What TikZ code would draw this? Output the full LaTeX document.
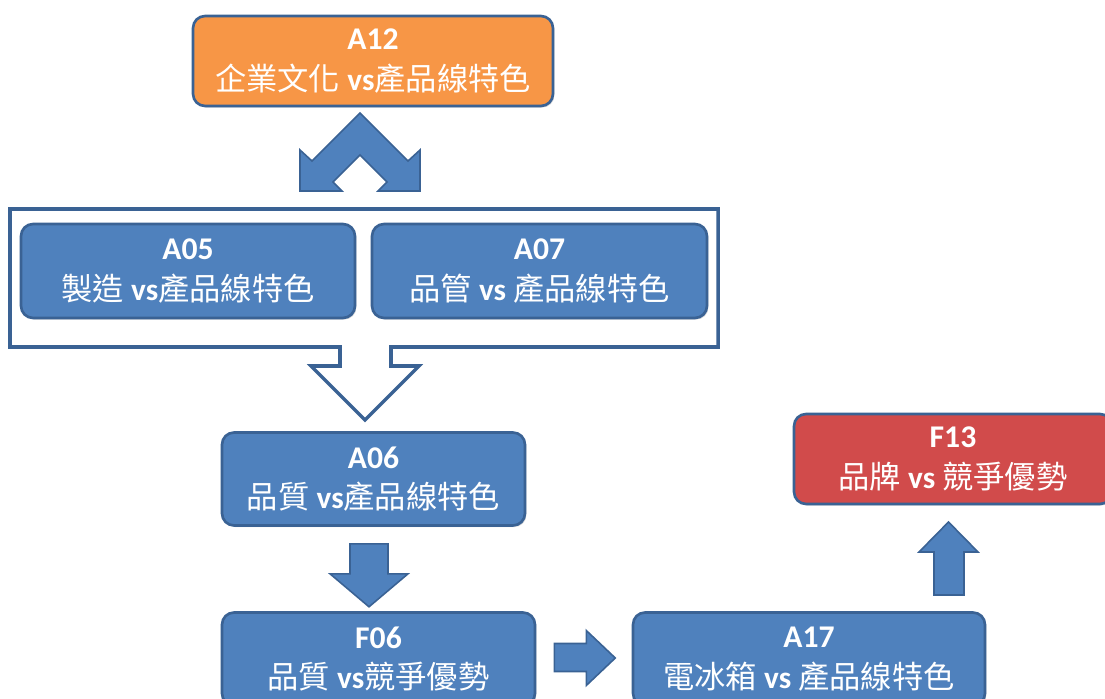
\documentclass[tikz,border=0pt]{standalone}
\usepackage{fontspec}
\setmainfont{Carlito}
\newfontfamily\cjk{Noto Sans CJK TC}
\usetikzlibrary{calc,shadows}

\definecolor{boxblue}{HTML}{4F81BD}
\definecolor{edgeblue}{HTML}{3A6294}
\definecolor{boxorange}{HTML}{F79646}
\definecolor{boxred}{HTML}{D14B4B}

\newcommand{\cardtext}[2]{{\fontsize{18}{23}\selectfont\bfseries #1}\\#2}

\begin{document}
\begin{tikzpicture}[x=0.02cm,y=-0.02cm,
  card/.style={draw=edgeblue, line width=1.5pt, rounded corners=0.24cm,
    fill=boxblue, text=white, align=center, inner sep=0pt,
    font=\fontsize{17.8}{23}\selectfont,
    drop shadow={shadow xshift=0.8pt, shadow yshift=-0.9pt, opacity=0.3}},
  blockarrow/.style={fill=boxblue, draw=edgeblue, line width=0.9pt, line join=miter},
  groupframe/.style={fill=white, draw=edgeblue, line width=2pt, line join=miter}]

\useasboundingbox (0,0) rectangle (1105,699);
\clip (0,0) rectangle (1105,699);

% top card
\node[card, fill=boxorange, minimum width=7.2cm, minimum height=1.8cm] (a12) at (373,61)
  {\cardtext{A12}{{\cjk 企業文化} \textbf{vs}{\cjk 產品線特色}}};

% double chevron from A12 down to the group
\coordinate (chev) at (360,113);
\draw[blockarrow] (chev) -- (408,161) -- (420,150) -- (420,191) -- (378,191)
  -- (387,182) -- (360,155) -- (333,182) -- (342,191) -- (300,191)
  -- (300,150) -- (312,161) -- cycle;

% group frame with its hollow down arrow
\draw[groupframe] (10,209) -- (718,209) -- (718,347) -- (391,347) -- (391,366)
  -- (419,366) -- (365,420) -- (311,366) -- (340,366) -- (340,347)
  -- (10,347) -- cycle;

\node[card, minimum width=6.68cm, minimum height=1.88cm] (a05) at (188,271)
  {\cardtext{A05}{{\cjk 製造} \textbf{vs}{\cjk 產品線特色}}};
\node[card, minimum width=6.7cm, minimum height=1.88cm] (a07) at (539.5,271)
  {\cardtext{A07}{{\cjk 品管} \textbf{vs} {\cjk 產品線特色}}};

% middle column
\node[card, minimum width=6.06cm, minimum height=1.86cm] (a06) at (373.5,479)
  {\cardtext{A06}{{\cjk 品質} \textbf{vs}{\cjk 產品線特色}}};
\node[card, minimum width=6.26cm, minimum height=1.86cm] (f06) at (378.5,659)
  {\cardtext{F06}{{\cjk 品質} \textbf{vs}{\cjk 競爭優勢}}};
\node[card, minimum width=7.04cm, minimum height=1.86cm] (a17) at (809,659)
  {\cardtext{A17}{{\cjk 電冰箱} \textbf{vs} {\cjk 產品線特色}}};
\node[card, fill=boxred, minimum width=6.36cm, minimum height=1.8cm] (f13) at (953,459)
  {\cardtext{F13}{{\cjk 品牌} \textbf{vs} {\cjk 競爭優勢}}};

% A06 -> F06
\coordinate (down1) at ($(a06.south)+(-4.5,17)$);
\draw[blockarrow] (down1) ++(-19,0) -- ++(38,0) -- ++(0,30) -- ++(20,0)
  -- ++(-39,33) -- ++(-39,-33) -- ++(20,0) -- cycle;

% F06 -> A17
\coordinate (right1) at ($(f06.east)+(18,-15.5)$);
\draw[blockarrow] (right1) -- ++(32,0) -- ++(0,-13) -- ++(29,27.5)
  -- ++(-29,27.5) -- ++(0,-14) -- ++(-32,0) -- cycle;

% A17 -> F13
\coordinate (up1) at (934,595);
\draw[blockarrow] (up1) -- ++(0,-43) -- ++(-15,0) -- ++(29.5,-30)
  -- ++(29.5,30) -- ++(-14,0) -- ++(0,43) -- cycle;

\end{tikzpicture}
\end{document}
